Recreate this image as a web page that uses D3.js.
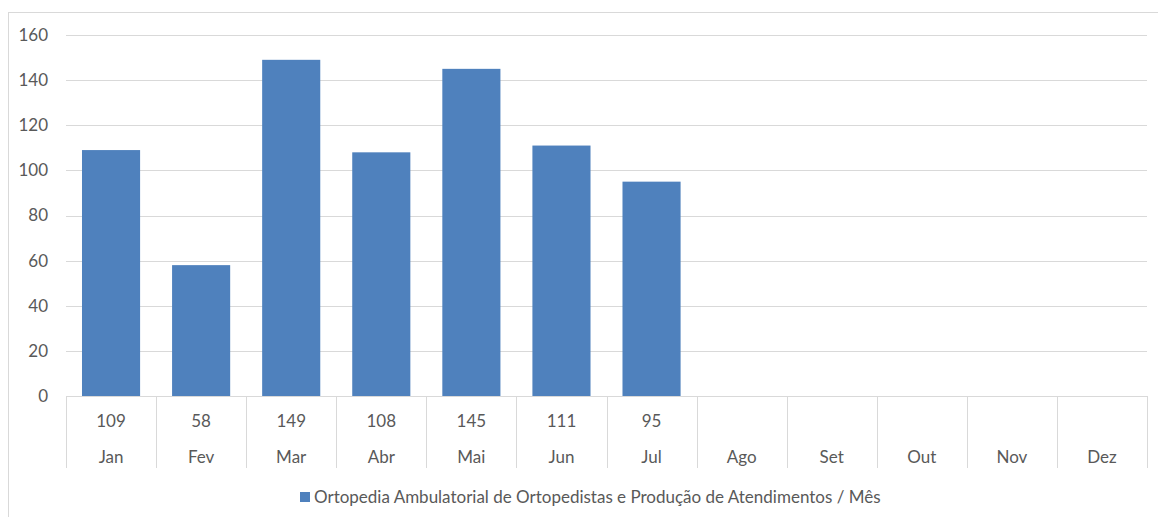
<!DOCTYPE html>
<html>
<head>
<meta charset="utf-8">
<script src="https://cdn.jsdelivr.net/npm/d3@7"></script>
<style>
  body { margin: 0; background: #fff; }
  text { font-family: Lato, "Open Sans", sans-serif; fill: #595959; }
</style>
</head>
<body>
<div id="chart"></div>
<script>
// data
var months = ["Jan", "Fev", "Mar", "Abr", "Mai", "Jun", "Jul", "Ago", "Set", "Out", "Nov", "Dez"];
var values = [109, 58, 149, 108, 145, 111, 95, null, null, null, null, null];
var yTicks = [0, 20, 40, 60, 80, 100, 120, 140, 160];
var seriesName = "Ortopedia Ambulatorial de Ortopedistas e Produção de Atendimentos / Mês";

var svgWidth = 1158;
var svgHeight = 517;
var fontSize = "17px";

var margin = { top: 35, right: 11, bottom: 121, left: 66 };
var width = svgWidth - margin.left - margin.right;
var height = svgHeight - margin.top - margin.bottom;

var svg = d3.select("#chart")
    .append("svg")
    .attr("width", svgWidth)
    .attr("height", svgHeight);

// outer chart border
svg.append("rect")
    .attr("x", 8.5).attr("y", 12.5)
    .attr("width", 1200).attr("height", 600)
    .attr("fill", "none")
    .attr("stroke", "#d9d9d9");

var chartGroup = svg.append("g")
    .attr("transform", `translate(${margin.left}, ${margin.top})`);

var xScale = d3.scaleBand()
    .domain(months)
    .range([0, width])
    .paddingInner(0.355)
    .paddingOuter(0.1775);

var xBand = d3.scaleBand().domain(months).range([0, width]);

var yScale = d3.scaleLinear()
    .domain([0, 160])
    .range([height, 0]);

// gridlines
chartGroup.append("g")
    .selectAll("line")
    .data(yTicks)
    .enter()
    .append("line")
    .attr("x1", 0).attr("x2", width)
    .attr("y1", d => Math.round(yScale(d)) + 0.5)
    .attr("y2", d => Math.round(yScale(d)) + 0.5)
    .attr("stroke", "#d9d9d9")
    .attr("stroke-width", 1);

// y labels
chartGroup.append("g")
    .selectAll("text")
    .data(yTicks)
    .enter()
    .append("text")
    .attr("x", -18)
    .attr("y", d => yScale(d))
    .attr("dy", "0.35em")
    .attr("text-anchor", "end")
    .style("font-size", fontSize)
    .text(d => d);

// bars
chartGroup.append("g")
    .selectAll("rect")
    .data(months.map((m, i) => ({ m: m, v: values[i] })).filter(d => d.v != null))
    .enter()
    .append("rect")
    .attr("x", d => xScale(d.m))
    .attr("width", xScale.bandwidth())
    .attr("y", d => yScale(d.v))
    .attr("height", d => height - yScale(d.v))
    .attr("fill", "#4f81bd");

// data table vertical lines
var tableH = 72;
var bounds = months.map(m => xBand(m)).concat([width]);
chartGroup.append("g")
    .selectAll("line")
    .data(bounds)
    .enter()
    .append("line")
    .attr("x1", d => Math.round(d) + 0.5)
    .attr("x2", d => Math.round(d) + 0.5)
    .attr("y1", height)
    .attr("y2", height + tableH)
    .attr("stroke", "#d9d9d9");

// table values
chartGroup.append("g")
    .selectAll("text")
    .data(months.map((m, i) => ({ m: m, v: values[i] })).filter(d => d.v != null))
    .enter()
    .append("text")
    .attr("x", d => xBand(d.m) + xBand.bandwidth() / 2)
    .attr("y", height + 25)
    .attr("dy", "0.35em")
    .attr("text-anchor", "middle")
    .style("font-size", fontSize)
    .text(d => d.v);

// table month names
chartGroup.append("g")
    .selectAll("text")
    .data(months)
    .enter()
    .append("text")
    .attr("x", d => xBand(d) + xBand.bandwidth() / 2)
    .attr("y", height + 61)
    .attr("dy", "0.35em")
    .attr("text-anchor", "middle")
    .style("font-size", fontSize)
    .text(d => d);

// legend
var legend = svg.append("g")
    .attr("transform", "translate(300, 497)");

legend.append("rect")
    .attr("x", 0).attr("y", -5)
    .attr("width", 10).attr("height", 10)
    .attr("fill", "#4f81bd");

legend.append("text")
    .attr("x", 14)
    .attr("y", 0)
    .attr("dy", "0.35em")
    .style("font-size", fontSize)
    .text(seriesName);
</script>
</body>
</html>
